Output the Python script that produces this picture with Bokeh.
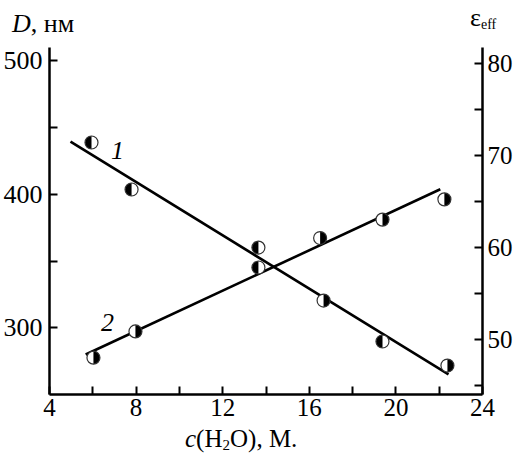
import math
from bokeh.plotting import figure
from bokeh.models import (LinearAxis, Range1d, FixedTicker, Label, ColumnDataSource, Div)
from bokeh.layouts import column
from bokeh.embed import file_html
from bokeh.resources import INLINE

# ---- data ----
conc_D = [5.94, 7.79, 13.65, 16.66, 19.38, 22.38]
D_nm = [438.8, 403.6, 360.1, 320.4, 289.7, 271.7]
conc_eps = [6.03, 7.97, 13.65, 16.5, 19.38, 22.24]
eps_eff = [48.0, 50.85, 57.8, 61.0, 63.0, 65.2]

fit1_x = [4.97, 22.43]
fit1_D = [439.5, 265.0]
fit2_x = [5.67, 22.05]
fit2_eps = [48.35, 66.3]

x_ticks = [4, 8, 12, 16, 20, 24]
x_minor = [6, 10, 14, 18, 22]
D_ticks = [300, 400, 500]
D_minor = [350, 450]
eps_ticks = [50, 60, 70, 80]
eps_minor = [45, 55, 65, 75]

# which half of each marker is black (style)
half_D = ["L", "L", "L", "R", "L", "R"]
half_eps = ["R", "R", "L", "R", "R", "R"]

FONT = "Liberation Serif"

p = figure(frame_width=433, frame_height=347, output_backend="svg", toolbar_location=None,
           x_range=Range1d(4, 24), y_range=Range1d(250, 510),
           min_border_left=0, min_border_right=0, min_border_top=0, min_border_bottom=33)
p.extra_y_ranges = {"eps": Range1d(44.0, 81.7)}
p.outline_line_color = None
p.xgrid.visible = False
p.ygrid.visible = False
p.background_fill_color = "white"
p.border_fill_color = "white"

right = LinearAxis(y_range_name="eps")
p.add_layout(right, "right")


def style(ax, ticks, minor, standoff, fs):
    ax.ticker = FixedTicker(ticks=ticks, minor_ticks=minor)
    ax.axis_line_width = 2.5
    ax.axis_line_color = "black"
    ax.major_tick_in = 8
    ax.major_tick_out = 0
    ax.minor_tick_in = 8
    ax.minor_tick_out = 0
    ax.major_tick_line_width = 2
    ax.minor_tick_line_width = 2
    ax.major_tick_line_color = "black"
    ax.minor_tick_line_color = "black"
    ax.major_label_text_font = FONT
    ax.major_label_text_font_size = fs
    ax.major_label_text_color = "black"
    ax.major_label_standoff = standoff


style(p.xaxis[0], x_ticks, x_minor, 4, "25px")
style(p.yaxis[0], D_ticks, D_minor, 7, "26px")
style(right, eps_ticks, eps_minor, 5, "25px")

# fit lines
p.line(fit1_x, fit1_D, line_color="black", line_width=2.6)
p.line(fit2_x, fit2_eps, line_color="black", line_width=2.6, y_range_name="eps")


def half_markers(xs, ys, halves, rng):
    kw = {} if rng is None else {"y_range_name": rng}
    p.scatter(xs, ys, size=13, fill_color="white", line_color=None, **kw)
    starts = [math.pi / 2 if h == "L" else -math.pi / 2 for h in halves]
    ends = [3 * math.pi / 2 if h == "L" else math.pi / 2 for h in halves]
    src = ColumnDataSource(dict(x=xs, y=ys, s=starts, e=ends))
    p.wedge(x="x", y="y", radius=6.5, radius_units="screen", start_angle="s", end_angle="e",
            fill_color="black", line_color=None, source=src, **kw)
    p.scatter(xs, ys, size=13, fill_color=None, line_color="#333333", line_width=1.2, **kw)


half_markers(conc_D, D_nm, half_D, None)
half_markers(conc_eps, eps_eff, half_eps, "eps")

# curve numbers
p.add_layout(Label(x=7.14, y=432.8, text="1", text_font=FONT, text_font_style="italic",
                   text_font_size="26px", text_color="black", text_align="center",
                   text_baseline="middle"))
p.add_layout(Label(x=6.68, y=304, text="2", text_font=FONT, text_font_style="italic",
                   text_font_size="26px", text_color="black", text_align="center",
                   text_baseline="middle"))

TXT = "font-family:'Liberation Serif',serif;font-size:26px;color:black;line-height:26px;white-space:nowrap;"
TXT2 = "font-family:'Liberation Serif',serif;font-size:25px;color:black;line-height:25px;white-space:nowrap;"

top = Div(width=509, height=37, text=(
    f'<div style="position:relative;width:509px;height:37px;{TXT}">'
    '<span style="position:absolute;left:7px;top:6px;"><i>D</i>, нм</span>'
    '<span style="position:absolute;left:465px;top:0px;">ε<span style="font-size:14px;'
    'position:relative;top:3px;">eff</span></span>'
    '</div>'))

bottom = Div(width=509, height=25, text=(
    f'<div style="position:relative;width:509px;height:25px;{TXT2}">'
    '<span style="position:absolute;left:180px;top:-6px;"><i>c</i>(H<span style="font-size:15px;'
    'position:relative;top:3px;">2</span>O), M.</span>'
    '</div>'))

layout = column(top, p, bottom, spacing=0)
open("out.html", "w").write(file_html(layout, INLINE))
